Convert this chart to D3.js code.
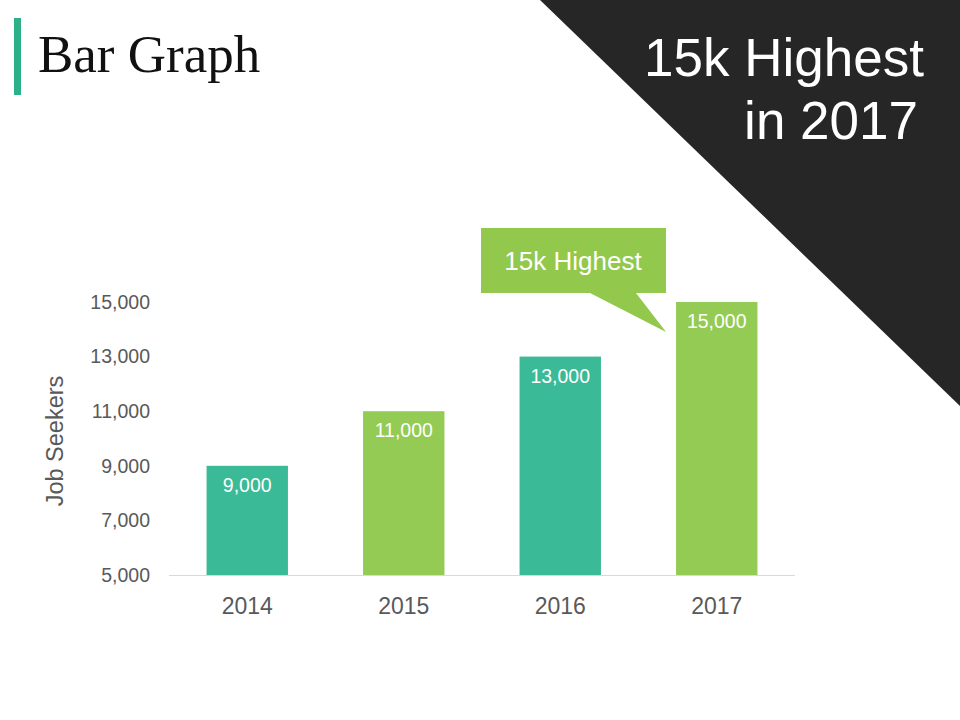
<!DOCTYPE html>
<html>
<head>
<meta charset="utf-8">
<script src="https://cdn.jsdelivr.net/npm/d3@7"></script>
<style>
    body { margin: 0; background: #fff; }
    svg { display: block; }
</style>
</head>
<body>
<div id="chart"></div>
<script>
var years = ['2014', '2015', '2016', '2017'];
var seekers = [9000, 11000, 13000, 15000];
var barColors = ['#3aba96', '#94cb55', '#3aba96', '#94cb55'];
var yTicks = [5000, 7000, 9000, 11000, 13000, 15000];

(function () {
    var width = 960, height = 720;
    var green = '#92c84c';
    var grey = '#595959';

    var svg = d3.select('#chart').append('svg')
        .attr('width', width)
        .attr('height', height);

    // dark corner triangle
    svg.append('path')
        .attr('d', 'M540,0 L960,0 L960,406 Z')
        .attr('fill', '#262626');

    svg.append('text')
        .attr('x', 924).attr('y', 76)
        .attr('text-anchor', 'end')
        .style('font-family', 'Liberation Sans, Arial, sans-serif')
        .style('font-size', '53px')
        .attr('fill', '#fff')
        .text('15k Highest');

    svg.append('text')
        .attr('x', 918).attr('y', 139)
        .attr('text-anchor', 'end')
        .style('font-family', 'Liberation Sans, Arial, sans-serif')
        .style('font-size', '53px')
        .attr('fill', '#fff')
        .text('in 2017');

    // title
    svg.append('rect')
        .attr('x', 14).attr('y', 18)
        .attr('width', 7).attr('height', 77)
        .attr('fill', '#2bb08a');

    svg.append('text')
        .attr('x', 38).attr('y', 72)
        .style('font-family', 'Liberation Serif, Times New Roman, serif')
        .style('font-size', '53px')
        .attr('fill', '#111')
        .text('Bar Graph');

    // chart
    var x = d3.scaleBand()
        .domain(years)
        .range([169, 795])
        .paddingInner(0.48)
        .paddingOuter(0.24);

    var y = d3.scaleLinear()
        .domain([5000, 15000])
        .range([575, 302]);

    var fmt = d3.format(',');

    var yAxis = svg.append('g')
        .attr('transform', 'translate(160,0)')
        .call(d3.axisLeft(y).tickValues(yTicks).tickFormat(fmt).tickSize(0).tickPadding(10));
    yAxis.select('.domain').remove();
    yAxis.selectAll('text')
        .style('font-family', 'Liberation Sans, Arial, sans-serif')
        .style('font-size', '19.5px')
        .attr('fill', grey);

    svg.append('text')
        .attr('transform', 'translate(63,441) rotate(-90)')
        .attr('text-anchor', 'middle')
        .style('font-family', 'Liberation Sans, Arial, sans-serif')
        .style('font-size', '23.5px')
        .attr('fill', grey)
        .text('Job Seekers');

    svg.selectAll('.bar')
        .data(years)
        .enter().append('rect')
        .attr('class', 'bar')
        .attr('x', function (d) { return x(d); })
        .attr('y', function (d, i) { return y(seekers[i]); })
        .attr('width', x.bandwidth())
        .attr('height', function (d, i) { return y(5000) - y(seekers[i]); })
        .attr('fill', function (d, i) { return barColors[i]; });

    svg.selectAll('.val')
        .data(years)
        .enter().append('text')
        .attr('class', 'val')
        .attr('x', function (d) { return x(d) + x.bandwidth() / 2; })
        .attr('y', function (d, i) { return y(seekers[i]) + 26; })
        .attr('text-anchor', 'middle')
        .style('font-family', 'Liberation Sans, Arial, sans-serif')
        .style('font-size', '19.5px')
        .attr('fill', '#fff')
        .text(function (d, i) { return fmt(seekers[i]); });

    svg.append('line')
        .attr('x1', 169).attr('x2', 795)
        .attr('y1', y(5000) + 0.5).attr('y2', y(5000) + 0.5)
        .attr('stroke', '#d9d9d9')
        .attr('stroke-width', 1);

    var xAxis = svg.append('g')
        .attr('transform', 'translate(0,' + y(5000) + ')')
        .call(d3.axisBottom(x).tickSize(0).tickPadding(23));
    xAxis.select('.domain').remove();
    xAxis.selectAll('text')
        .style('font-family', 'Liberation Sans, Arial, sans-serif')
        .style('font-size', '23px')
        .attr('fill', grey);

    // callout on the highest bar
    var last = years[years.length - 1];
    var tipX = x(last) - 10;
    var tipY = y(seekers[seekers.length - 1]) + 30;
    svg.append('path')
        .attr('d', 'M481,228 L666,228 L666,293 L636,293 L' + tipX + ',' + tipY + ' L590,293 L481,293 Z')
        .attr('fill', green);

    svg.append('text')
        .attr('x', 573).attr('y', 270)
        .attr('text-anchor', 'middle')
        .style('font-family', 'Liberation Sans, Arial, sans-serif')
        .style('font-size', '26px')
        .attr('fill', '#fff')
        .text('15k Highest');
})();
</script>
</body>
</html>
